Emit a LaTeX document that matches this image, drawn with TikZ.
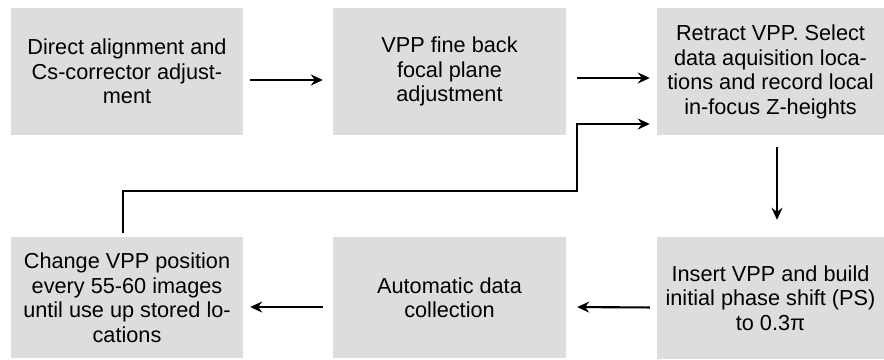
\documentclass[tikz,border=0pt]{standalone}
\usepackage{fontspec}
\setmainfont{Liberation Sans}
\usetikzlibrary{arrows.meta}
\definecolor{boxgray}{RGB}{221,221,221}
\begin{document}
\begin{tikzpicture}[x=1pt,y=-1pt,
  box/.style={fill=boxgray, inner sep=0pt, align=center, minimum width=232pt, minimum height=127pt,
    font=\fontsize{21.7}{24.5}\selectfont},
  conn/.style={line width=2.1pt, -{Stealth[length=12pt,width=11pt,inset=4pt]}}]
\useasboundingbox (0,0) rectangle (884,359);
\node[box] (b1) at (127,71.5) {Direct alignment and\\Cs-corrector adjust-\\ment};
\node[box, minimum width=233pt] (b2) at (449.5,71.5) {VPP fine back\\focal plane\\adjustment};
\node[box, minimum width=227pt, text depth=4pt] (b3) at (770.5,71.5) {Retract VPP. Select\\data aquisition loca-\\tions and record local\\in-focus Z-heights};
\node[box, minimum height=121pt] (b4) at (127,297.5) {Change VPP position\\every 55-60 images\\until use up stored lo-\\cations};
\node[box, minimum width=233pt, minimum height=121pt] (b5) at (449.5,297.5) {Automatic data\\collection};
\node[box, minimum width=227pt, minimum height=122pt] (b6) at (770.5,298) {Insert VPP and build\\initial phase shift (PS)\\to 0.3π};
\coordinate (f1) at (123,191);
\coordinate (f2) at (577,191);
\coordinate (f3) at (577,124);
\draw[conn, shorten <=7pt, shorten >=10pt] ([yshift=-8.5pt]b1.east) -- ([yshift=-8.5pt]b2.west);
\draw[conn, shorten <=11pt, shorten >=7pt] ([yshift=-6.5pt]b2.east) -- ([yshift=-6.5pt]b3.west);
\draw[conn, shorten <=4pt, shorten >=7pt] (b4.north -| f1) -- (f1) -- (f2) -- (f3) -- (f3 -| b3.west);
\draw[conn, shorten <=12pt, shorten >=17pt] (b3.south -| 777,0) -- (b6.north -| 777,0);
\draw[conn, shorten <=7pt, shorten >=11pt] ([yshift=-9.5pt]b6.west) -- ([yshift=-9.5pt]b5.east);
\draw[conn, shorten <=10pt, shorten >=7pt] ([yshift=-9.5pt]b5.west) -- ([yshift=-9.5pt]b4.east);
\end{tikzpicture}
\end{document}
